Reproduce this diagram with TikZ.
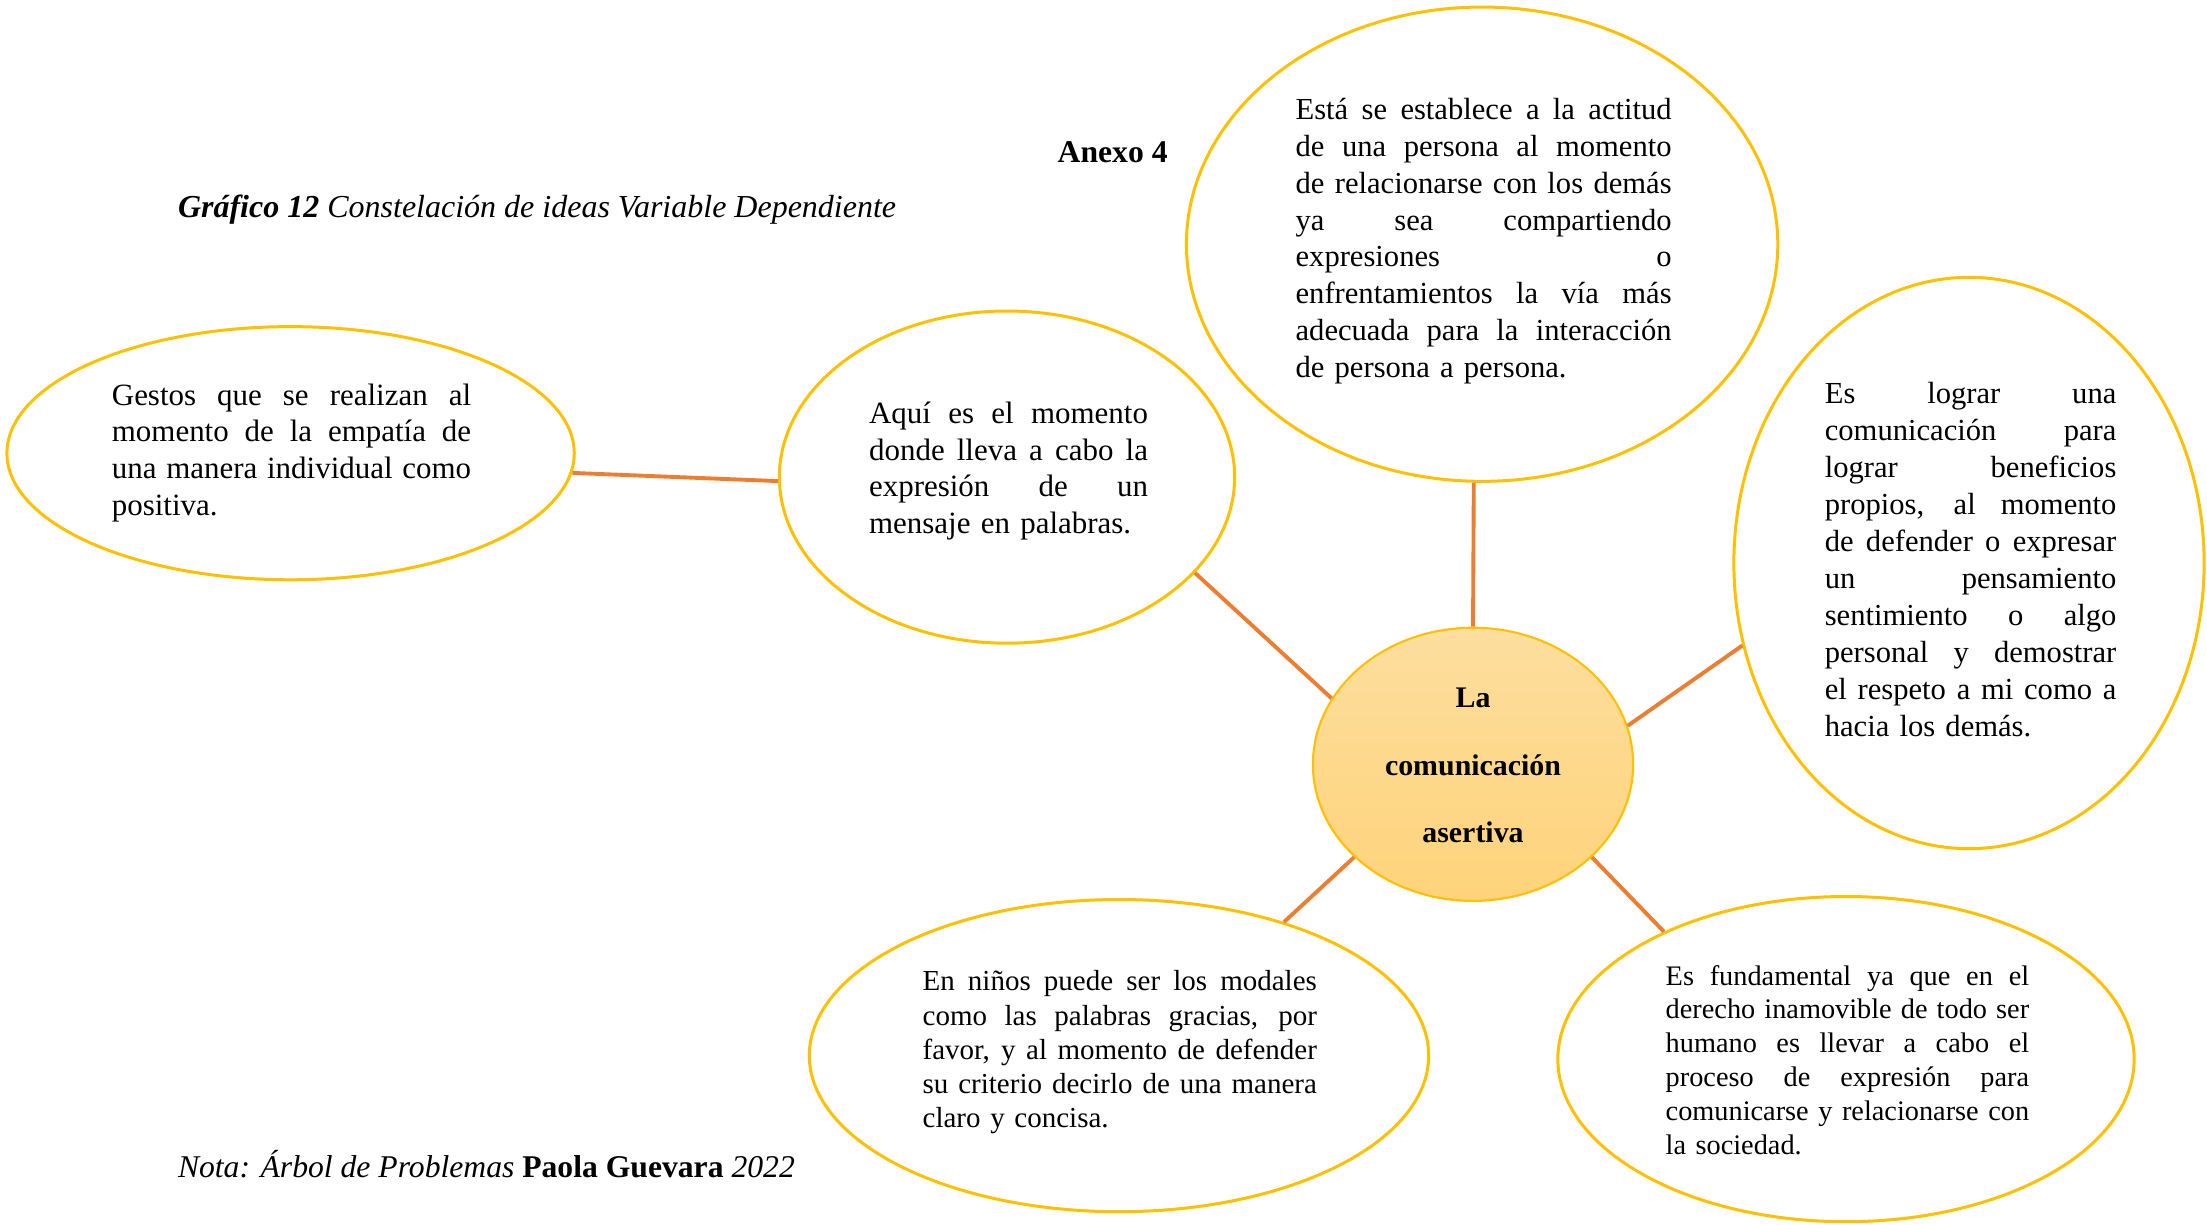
\documentclass[tikz,border=0pt]{standalone}
\usepackage{fontspec}
\setmainfont{Liberation Serif}
\usetikzlibrary{shapes.geometric}
\definecolor{gold}{RGB}{255,192,0}
\definecolor{conn}{RGB}{237,125,49}
\definecolor{ctop}{RGB}{253,222,158}
\definecolor{cbot}{RGB}{254,211,122}
\newlength{\jw}
\newcommand{\jl}[1]{\noindent\hbox to \jw{\spaceskip=\fontdimen2\font plus 1fil minus \fontdimen4\font\xspaceskip=\spaceskip #1}\par}
\newcommand{\lastl}[1]{\noindent\hbox{#1}\par}
\begin{document}
\begin{tikzpicture}[x=0.01cm,y=-0.01cm,
  bubble/.style={ellipse,draw=gold,line width=0.85pt,inner sep=0pt},
  txt/.style={anchor=base west,inner sep=0pt},
  link/.style={draw=conn,line width=1.1pt}]
\useasboundingbox[fill=white] (0,0) rectangle (2207,1224);

\node[bubble,minimum width=5.67cm,minimum height=2.53cm] (gestos) at (290.6,453.2) {};
\node[bubble,minimum width=4.55cm,minimum height=3.32cm] (aqui) at (1007,477.1) {};
\node[bubble,minimum width=5.91cm,minimum height=4.74cm] (tp) at (1482.1,244.2) {};
\node[bubble,minimum width=4.70cm,minimum height=5.71cm] (rt) at (1969,563) {};
\node[ellipse,draw=gold,line width=0.6pt,top color=ctop,bottom color=cbot,minimum width=3.20cm,minimum height=2.73cm] (c) at (1473,764.3) {};
\node[bubble,minimum width=6.19cm,minimum height=3.12cm] (bl) at (1119,1055.6) {};
\node[bubble,minimum width=5.76cm,minimum height=3.25cm] (br) at (1846,1059.1) {};

\draw[link] (gestos.-4.6) -- (aqui.181);
\draw[link] (aqui.-27) -- (c.155.7);
\draw[link] (tp.-92.7) -- (c.90.9);
\draw[link] (rt.-160.6) -- (c.14.6);
\draw[link] (bl.39.2) -- (c.-142.1);
\draw[link] (br.145.5) -- (c.-38.3);

\node[txt] (anexo) at (1057,162) {\fontsize{9}{11}\selectfont\bfseries Anexo 4};
\node[txt] (grafico) at (177.3,217.5) {\fontsize{9.1}{11}\selectfont\itshape\bfseries Gráfico 12 \mdseries Constelación de ideas Variable Dependiente};
\node[txt] (nota) at (177.3,1177) {\fontsize{9}{11}\selectfont\itshape Nota: Árbol de Problemas \upshape\bfseries Paola Guevara \mdseries\itshape 2022};

\node[txt,text width=3.59cm,font=\fontsize{8.8}{10.42}\selectfont] (tgestos) at (111.2,405.3)
 {\setlength{\jw}{3.59cm}\jl{Gestos que se realizan al}\jl{momento de la empatía de}\jl{una manera individual como}\lastl{positiva.}};
\node[txt,text width=2.787cm,font=\fontsize{8.8}{10.42}\selectfont] (taqui) at (868.4,423.6)
 {\setlength{\jw}{2.787cm}\jl{Aquí es el momento}\jl{donde lleva a cabo la}\jl{expresión de un}\lastl{mensaje en palabras.}};
\node[txt,text width=3.758cm,font=\fontsize{8.7}{10.47}\selectfont] (ttp) at (1294.9,119.6)
 {\setlength{\jw}{3.758cm}\jl{Está se establece a la actitud}\jl{de una persona al momento}\jl{de relacionarse con los demás}\jl{ya sea compartiendo}\jl{expresiones o}\jl{enfrentamientos la vía más}\jl{adecuada para la interacción}\lastl{de persona a persona.}};
\node[txt,text width=2.914cm,font=\fontsize{8.7}{10.5}\selectfont] (trt) at (1824.1,403.9)
 {\setlength{\jw}{2.914cm}\jl{Es lograr una}\jl{comunicación para}\jl{lograr beneficios}\jl{propios, al momento}\jl{de defender o expresar}\jl{un pensamiento}\jl{sentimiento o algo}\jl{personal y demostrar}\jl{el respeto a mi como a}\lastl{hacia los demás.}};
\node[txt,text width=3.941cm,font=\fontsize{8.25}{9.7}\selectfont] (tbl) at (921.9,990.9)
 {\setlength{\jw}{3.941cm}\jl{En niños puede ser los modales}\jl{como las palabras gracias, por}\jl{favor, y al momento de defender}\jl{su criterio decirlo de una manera}\lastl{claro y concisa.}};
\node[txt,text width=3.632cm,font=\fontsize{8.05}{9.6}\selectfont] (tbr) at (1665,985.2)
 {\setlength{\jw}{3.632cm}\jl{Es fundamental ya que en el}\jl{derecho inamovible de todo ser}\jl{humano es llevar a cabo el}\jl{proceso de expresión para}\jl{comunicarse y relacionarse con}\lastl{la sociedad.}};
\node[anchor=base,inner sep=0pt,text width=3cm,align=center,font=\bfseries\fontsize{8.5}{19.2}\selectfont] (tc) at (1473,707.9)
 {La\\comunicación\\asertiva};
\end{tikzpicture}
\end{document}
